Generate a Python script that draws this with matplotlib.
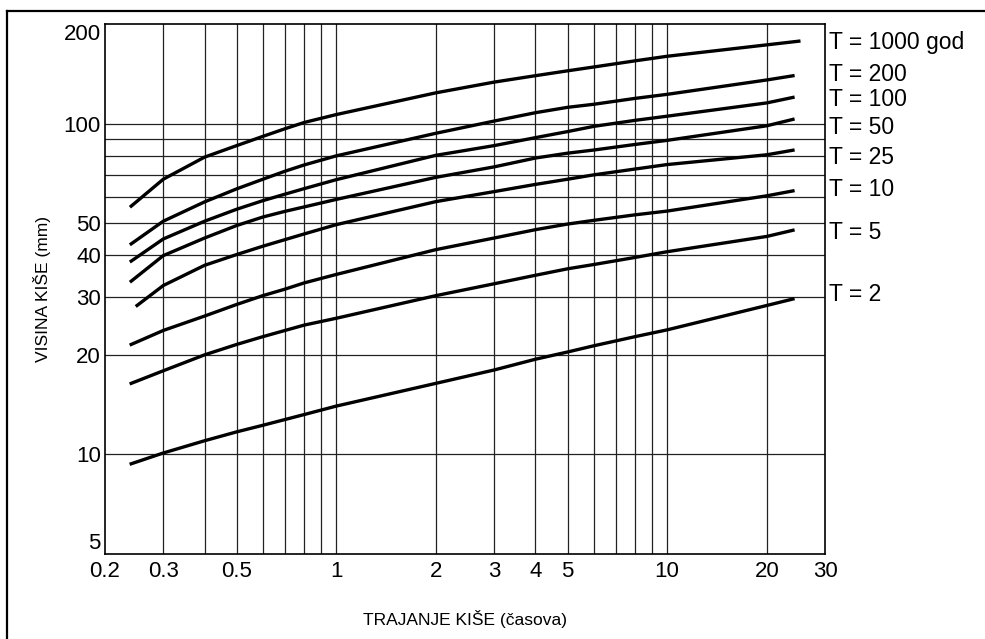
import matplotlib
matplotlib.use('Agg')
import matplotlib.pyplot as plt
from matplotlib.ticker import NullLocator
from matplotlib.lines import Line2D

plt.rcParams['font.family'] = ['Liberation Sans', 'DejaVu Sans']

# trajanje kise (h) - zajednicke tacke ocitavanja
d_mid = [0.3, 0.4, 0.5, 0.6, 0.7, 0.8, 1, 2, 3, 4, 5, 6, 8, 10, 20]
d_start = [0.24, 0.24, 0.24, 0.24, 0.25, 0.24, 0.24, 0.24]
d_end = [25, 24, 24, 24, 24, 24, 24, 24]

# visina kise (mm) za povratne periode, start + d_mid + end
h_1000 = [56.3, 67.9, 79.2, 85.8, 91.5, 96.5, 100.8, 106.5, 123.9, 133.5, 139.6, 144.4, 148.3, 154.8, 159.8, 173.0, 177.5]
h_200 = [43.3, 50.7, 58.0, 63.5, 67.9, 71.8, 75.0, 79.9, 93.5, 101.8, 107.9, 112.0, 114.4, 119.2, 122.6, 135.5, 139.5]
h_100 = [38.4, 44.8, 50.7, 55.1, 58.5, 61.2, 63.6, 67.7, 80.2, 85.8, 90.7, 94.6, 98.1, 102.3, 105.3, 115.5, 120.0]
h_50 = [33.4, 39.9, 45.1, 49.2, 52.2, 54.3, 56.0, 59.0, 68.8, 74.0, 78.7, 81.4, 83.2, 86.5, 89.0, 98.5, 103.0]
h_25 = [28.2, 32.4, 37.3, 40.2, 42.6, 44.6, 46.4, 49.5, 58.1, 62.3, 65.5, 67.9, 70.0, 72.9, 75.2, 80.5, 83.1]
h_10 = [21.5, 23.7, 26.2, 28.4, 30.2, 31.6, 33.0, 35.0, 41.6, 45.1, 47.8, 49.7, 51.0, 53.0, 54.4, 60.5, 62.6]
h_5 = [16.4, 17.9, 20.0, 21.5, 22.7, 23.7, 24.6, 25.8, 30.2, 32.8, 34.8, 36.4, 37.5, 39.4, 41.0, 45.6, 47.6]
h_2 = [9.37, 10.1, 11.0, 11.7, 12.25, 12.75, 13.2, 14.0, 16.4, 18.0, 19.4, 20.4, 21.3, 22.7, 23.8, 28.2, 29.5]
curves = [h_1000, h_200, h_100, h_50, h_25, h_10, h_5, h_2]

t_labels = ['T = 1000 god', 'T = 200', 'T = 100', 'T = 50', 'T = 25', 'T = 10', 'T = 5', 'T = 2']
t_label_y = [176, 141, 118, 97, 79, 63, 47, 30.5]

x_grid = [0.3, 0.4, 0.5, 0.6, 0.7, 0.8, 0.9, 1, 2, 3, 4, 5, 6, 7, 8, 9, 10, 20]
y_grid = [10, 20, 30, 40, 50, 60, 70, 80, 90, 100]
x_ticks = [0.2, 0.3, 0.5, 1, 2, 3, 4, 5, 10, 20, 30]
x_tick_labels = ['0.2', '0.3', '0.5', '1', '2', '3', '4', '5', '10', '20', '30']
y_ticks = [5, 10, 20, 30, 40, 50, 100, 200]
y_tick_labels = ['5', '10', '20', '30', '40', '50', '100', '200']

fig = plt.figure(figsize=(9.85, 6.39), dpi=100)
ax = fig.add_axes([0.1066, 0.133, 0.731, 0.8294])

for v in x_grid:
    ax.axvline(v, color='#222222', lw=0.9, zorder=1)
for v in y_grid:
    ax.axhline(v, color='#222222', lw=0.9, zorder=1)

for i, h in enumerate(curves):
    x = [d_start[i]] + d_mid + [d_end[i]]
    ax.plot(x, h, color='black', lw=2.4, solid_joinstyle='round', zorder=3)

ax.set_xscale('log')
ax.set_yscale('log')
ax.set_xlim(0.2, 30)
ax.set_ylim(5, 200)
ax.set_xticks(x_ticks)
ax.set_xticklabels(x_tick_labels)
ax.set_yticks(y_ticks)
ax.set_yticklabels(y_tick_labels)
ax.xaxis.set_minor_locator(NullLocator())
ax.yaxis.set_minor_locator(NullLocator())
ax.tick_params(axis='both', length=0, labelsize=16)
ax.tick_params(axis='x', pad=5)
ax.tick_params(axis='y', pad=3)
ylabs = ax.get_yticklabels()
ylabs[0].set_va('bottom')
ylabs[-1].set_va('top')

for s in ax.spines.values():
    s.set_linewidth(1.2)
    s.set_color('black')

for lab, yv in zip(t_labels, t_label_y):
    ax.text(1.006, yv, lab, transform=ax.get_yaxis_transform(), fontsize=16.5,
            ha='left', va='center')

ax.set_xlabel('TRAJANJE KIŠE (časova)', fontsize=12.5)
ax.xaxis.set_label_coords(0.5, -0.105)
ax.set_ylabel('VISINA KIŠE (mm)', fontsize=12.5)
ax.yaxis.set_label_coords(-0.075, 0.5)

# okvir slike
fig.add_artist(Line2D([7/985, 1], [1 - 11/639, 1 - 11/639], transform=fig.transFigure, color='black', lw=1.6))
fig.add_artist(Line2D([7/985, 7/985], [0, 1 - 11/639], transform=fig.transFigure, color='black', lw=1.6))

fig.savefig('out.png', dpi=100)
